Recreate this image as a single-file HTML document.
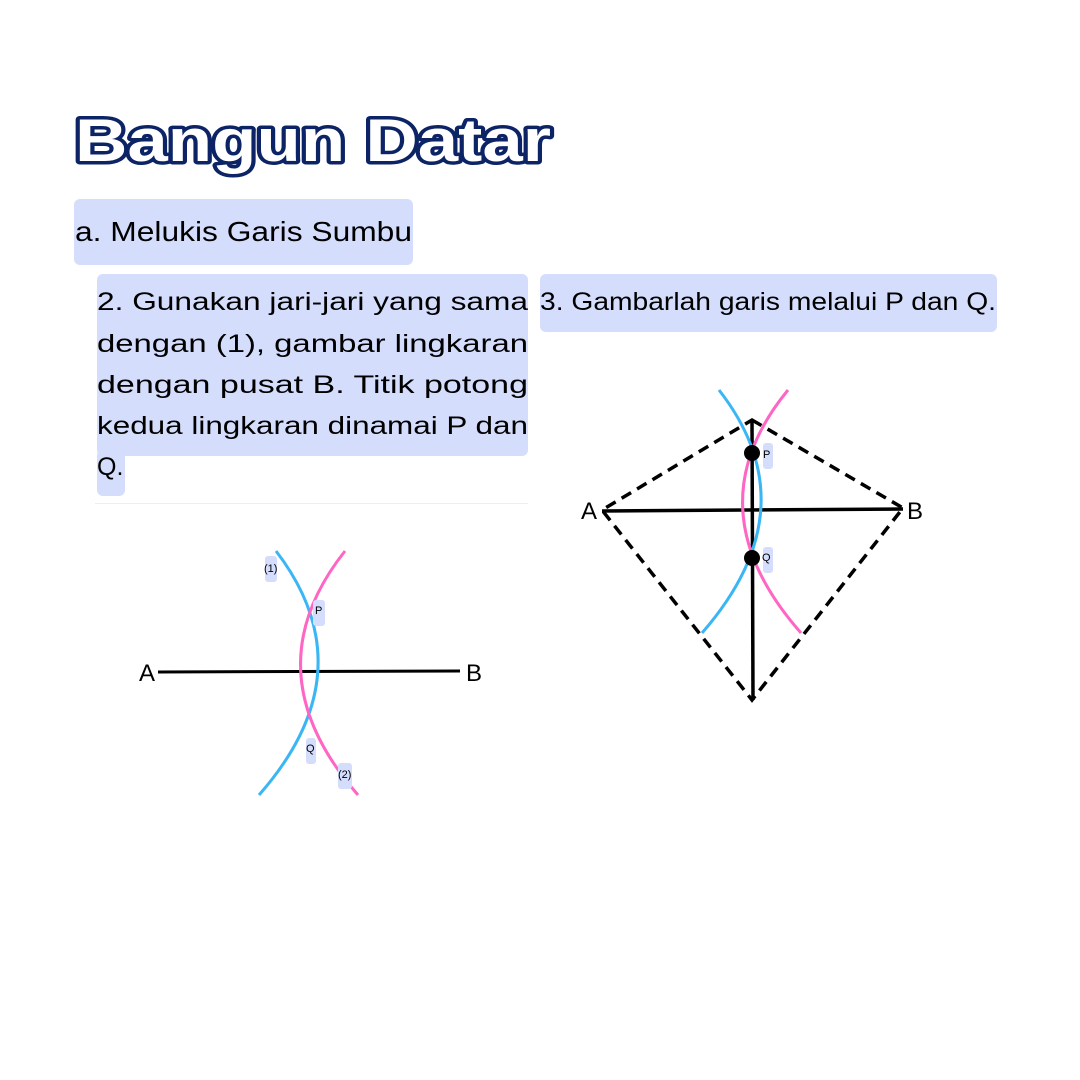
<!DOCTYPE html>
<html><head><meta charset="utf-8">
<style>
body{margin:0;width:1080px;height:1080px;background:#fff;position:relative;overflow:hidden;font-family:"Liberation Sans",sans-serif;}
.box{position:absolute;background:#d4ddfc;border-radius:6px;}
</style></head><body>
<div class="box" style="left:74px;top:199px;width:339px;height:66px"></div>
<div class="box" style="left:97px;top:274px;width:431px;height:182px"></div>
<div class="box" style="left:97px;top:450px;width:28px;height:46px"></div>
<div class="box" style="left:540px;top:274px;width:457px;height:58px"></div>
<div style="position:absolute;left:95px;top:503px;width:433px;height:1px;background:#eee"></div>

<svg style="position:absolute;left:0;top:0" width="1080" height="1080" font-family="Liberation Sans, sans-serif">
<text x="75" y="161" font-weight="bold" font-size="60" fill="#fff" stroke="#0c2466" stroke-width="7" stroke-linejoin="round" paint-order="stroke" textLength="476" lengthAdjust="spacingAndGlyphs">Bangun Datar</text>
<text x="75" y="241" font-size="28" textLength="337" lengthAdjust="spacingAndGlyphs">a. Melukis Garis Sumbu</text>
<g font-size="25">
<text x="97" y="310" textLength="431" lengthAdjust="spacingAndGlyphs">2. Gunakan  jari-jari  yang  sama</text>
<text x="97" y="352" textLength="431" lengthAdjust="spacingAndGlyphs">dengan  (1),  gambar  lingkaran</text>
<text x="97" y="393" textLength="431" lengthAdjust="spacingAndGlyphs">dengan  pusat  B.  Titik  potong</text>
<text x="97" y="434" textLength="431" lengthAdjust="spacingAndGlyphs">kedua  lingkaran  dinamai  P  dan</text>
<text x="97" y="475">Q.</text>
</g>
<text x="540" y="310" font-size="25" textLength="456" lengthAdjust="spacingAndGlyphs">3. Gambarlah garis melalui P dan Q.</text>

<g>
<line x1="158" y1="672" x2="460" y2="671" stroke="#000" stroke-width="3"/>
<path d="M276,551 Q368,671 259,795" fill="none" stroke="#3bb6f5" stroke-width="3"/>
<path d="M345,551 Q250,671 358,795" fill="none" stroke="#ff66c4" stroke-width="3"/>
<text x="139" y="681" font-size="24">A</text>
<text x="466" y="681" font-size="24">B</text>
<rect x="265" y="556" width="12" height="26" rx="3" fill="#d4ddfc"/><text x="264" y="572" font-size="11">(1)</text>
<rect x="313" y="600" width="12" height="26" rx="3" fill="#d4ddfc"/><text x="315" y="614" font-size="11">P</text>
<rect x="306" y="738" width="10" height="26" rx="3" fill="#d4ddfc"/><text x="306" y="752" font-size="11">Q</text>
<rect x="338" y="763" width="14" height="26" rx="3" fill="#d4ddfc"/><text x="338" y="778" font-size="11">(2)</text>
</g>

<g>
<polygon points="752,420 903,508 752,700 602,510" fill="none" stroke="#000" stroke-width="3.5" stroke-dasharray="11,7"/>
<line x1="602" y1="511" x2="903" y2="509" stroke="#000" stroke-width="3.5"/>
<line x1="752" y1="420" x2="753" y2="700" stroke="#000" stroke-width="3.5"/>
<path d="M719,390 Q811,508 702,633" fill="none" stroke="#3bb6f5" stroke-width="3"/>
<path d="M788,390 Q691,508 801,633" fill="none" stroke="#ff66c4" stroke-width="3"/>
<circle cx="752" cy="453" r="8" fill="#000"/>
<circle cx="752" cy="558" r="8" fill="#000"/>
<text x="581" y="519" font-size="24">A</text>
<text x="907" y="519" font-size="24">B</text>
<rect x="763" y="443" width="10" height="26" rx="3" fill="#d4ddfc"/><text x="763" y="458" font-size="11">P</text>
<rect x="763" y="547" width="10" height="26" rx="3" fill="#d4ddfc"/><text x="762" y="561" font-size="11">Q</text>
</g>
</svg>
</body></html>
